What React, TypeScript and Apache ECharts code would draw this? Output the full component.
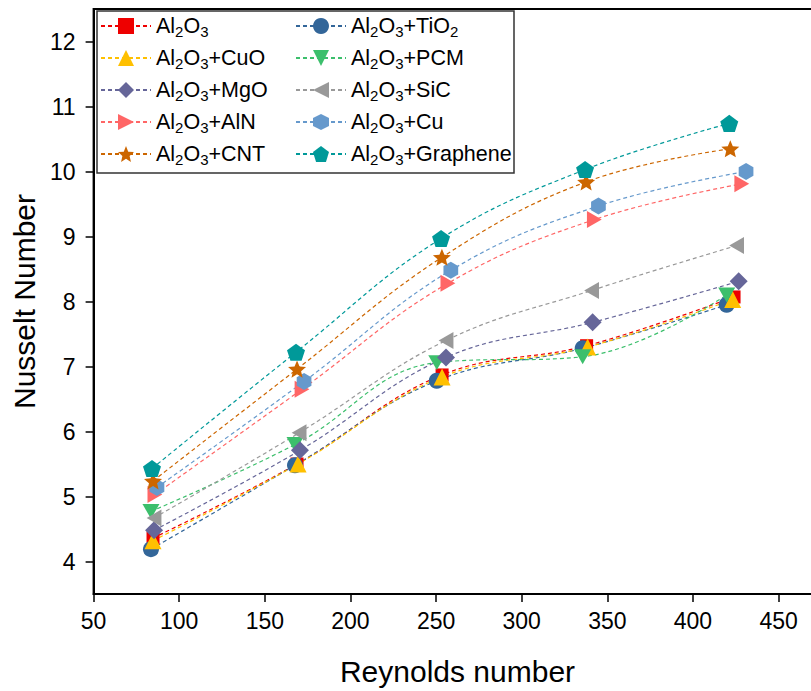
import { useEffect, useRef } from 'react';
import * as echarts from 'echarts';

const FONT = '"Liberation Sans", Arial, Helvetica, sans-serif';

// Reynolds number (x) and Nusselt number (y) per nanofluid
const reAl2O3 = [84.7, 168.8, 253.5, 337.9, 424.0];
const nuAl2O3 = [4.36, 5.5, 6.87, 7.32, 8.07];
const reTiO2 = [83.5, 167.6, 250.4, 335.6, 419.7];
const nuTiO2 = [4.19, 5.48, 6.78, 7.28, 7.95];
const reCuO = [84.7, 169.4, 253.5, 338.5, 423.2];
const nuCuO = [4.32, 5.5, 6.84, 7.3, 8.03];
const rePCM = [83.5, 167.6, 250.4, 335.6, 419.7];
const nuPCM = [4.77, 5.8, 7.06, 7.15, 8.1];
const reMgO = [85.3, 170.5, 255.8, 341.4, 426.7];
const nuMgO = [4.48, 5.71, 7.14, 7.68, 8.31];
const reSiC = [85.3, 170.0, 255.8, 340.8, 425.5];
const nuSiC = [4.67, 5.98, 7.4, 8.17, 8.86];
const reAlN = [85.8, 171.7, 256.9, 342.4, 428.5];
const nuAlN = [5.03, 6.65, 8.28, 9.26, 9.81];
const reCu = [87.0, 172.9, 258.6, 344.8, 431.0];
const nuCu = [5.14, 6.77, 8.48, 9.47, 10.0];
const reCNT = [84.7, 168.8, 253.4, 337.6, 421.8];
const nuCNT = [5.24, 6.96, 8.68, 9.84, 10.35];
const reGraphene = [84.1, 168.2, 252.9, 337.0, 421.2];
const nuGraphene = [5.43, 7.22, 8.97, 10.03, 10.74];

const xTicks = [50, 100, 150, 200, 250, 300, 350, 400, 450];
const yTicks = [4, 5, 6, 7, 8, 9, 10, 11, 12];

const legendLeft = ['Al2O3', 'Al2O3+CuO', 'Al2O3+MgO', 'Al2O3+AlN', 'Al2O3+CNT'];
const legendRight = ['Al2O3+TiO2', 'Al2O3+PCM', 'Al2O3+SiC', 'Al2O3+Cu', 'Al2O3+Graphene'];

// marker outlines
const STAR = 'path://M50,0 L63.2,31.8 L97.55,34.55 L71.4,57 L79.39,90.45 L50,72.5 L20.61,90.45 L28.6,57 L2.45,34.55 L36.8,31.8 Z';
const PENTAGON = 'path://M50,0 L97.55,34.55 L79.39,90.45 L20.61,90.45 L2.45,34.55 Z';
const HEXAGON = 'path://M50,0 L93.3,25 L93.3,75 L50,100 L6.7,75 L6.7,25 Z';
const TRI_DOWN = 'path://M0,0 L100,0 L50,87 Z';
const TRI_LEFT = 'path://M0,50 L87,0 L87,100 Z';
const TRI_RIGHT = 'path://M0,0 L87,50 L0,100 Z';

const seriesDefs = [
  { name: 'Al2O3', x: reAl2O3, y: nuAl2O3, color: '#ee0000', symbol: 'rect', size: 13 },
  { name: 'Al2O3+TiO2', x: reTiO2, y: nuTiO2, color: '#336699', symbol: 'circle', size: 16 },
  { name: 'Al2O3+CuO', x: reCuO, y: nuCuO, color: '#ffc000', symbol: 'triangle', size: 17 },
  { name: 'Al2O3+PCM', x: rePCM, y: nuPCM, color: '#3cbf6c', symbol: TRI_DOWN, size: 17 },
  { name: 'Al2O3+MgO', x: reMgO, y: nuMgO, color: '#666699', symbol: 'diamond', size: 18 },
  { name: 'Al2O3+SiC', x: reSiC, y: nuSiC, color: '#999999', symbol: TRI_LEFT, size: 17 },
  { name: 'Al2O3+AlN', x: reAlN, y: nuAlN, color: '#ff6666', symbol: TRI_RIGHT, size: 17 },
  { name: 'Al2O3+Cu', x: reCu, y: nuCu, color: '#6699cc', symbol: HEXAGON, size: 17 },
  { name: 'Al2O3+CNT', x: reCNT, y: nuCNT, color: '#cc6600', symbol: STAR, size: 18 },
  { name: 'Al2O3+Graphene', x: reGraphene, y: nuGraphene, color: '#009999', symbol: PENTAGON, size: 18 },
];

// chemical formulas: digits become subscripts
const formula = (name: string) =>
  name
    .split(/(\d)/)
    .filter(Boolean)
    .map((p) => (/^\d$/.test(p) ? `{s|${p}}` : `{m|${p}}`))
    .join('');

const legendBase = (left: number, data: string[]) => ({
  orient: 'vertical',
  left,
  top: 13,
  padding: 0,
  itemWidth: 50,
  itemHeight: 20,
  itemGap: 6,
  data,
  formatter: formula,
  textStyle: {
    color: '#000',
    fontFamily: FONT,
    fontSize: 21,
    rich: {
      m: { fontFamily: FONT, fontSize: 21.5, lineHeight: 24, color: '#000' },
      s: { fontFamily: FONT, fontSize: 15, lineHeight: 13, padding: [11, 0, 0, 0], color: '#000' },
    },
  },
});

// the plot frame runs past the right edge of the page, so the chart is
// drawn a little wider than the visible area
const VIEW_W = 811;
const VIEW_H = 691;
const CHART_W = 840;

export default function App() {
  const ref = useRef<HTMLDivElement>(null);

  useEffect(() => {
    if (!ref.current) return;
    const chart = echarts.init(ref.current, null, { renderer: 'svg' });
    chart.setOption({
      animation: false,
      backgroundColor: '#fff',
      grid: {
        left: 93.6,
        right: CHART_W - 821.4,
        top: 9,
        bottom: 93,
        show: true,
        borderColor: '#000',
        borderWidth: 2,
      },
      legend: [legendBase(100, legendLeft), legendBase(295, legendRight)],
      graphic: [
        {
          type: 'rect',
          x: 97,
          y: 11,
          shape: { x: 0, y: 0, width: 417, height: 162 },
          style: { fill: 'none', stroke: '#333', lineWidth: 1.5 },
          z: 10,
        },
      ],
      xAxis: {
        type: 'value',
        min: 50,
        max: 475,
        interval: 50,
        name: 'Reynolds number',
        nameLocation: 'middle',
        nameGap: 62,
        nameTextStyle: { fontFamily: FONT, fontSize: 30, color: '#000' },
        axisLine: { lineStyle: { color: '#000', width: 2 } },
        axisTick: {
          inside: false,
          length: 8,
          customValues: xTicks,
          lineStyle: { color: '#000', width: 1.5 },
        },
        axisLabel: {
          fontFamily: FONT,
          fontSize: 23,
          color: '#000',
          margin: 15,
          customValues: xTicks,
        },
        splitLine: { show: false },
      },
      yAxis: {
        type: 'value',
        min: 3.5,
        max: 12.5,
        name: 'Nusselt Number',
        nameLocation: 'middle',
        nameGap: 48,
        nameTextStyle: { fontFamily: FONT, fontSize: 30, color: '#000' },
        axisLine: { lineStyle: { color: '#000', width: 2 } },
        axisTick: {
          inside: false,
          length: 8,
          customValues: yTicks,
          lineStyle: { color: '#000', width: 1.5 },
        },
        axisLabel: {
          fontFamily: FONT,
          fontSize: 23,
          color: '#000',
          margin: 18,
          customValues: yTicks,
        },
        splitLine: { show: false },
      },
      series: seriesDefs.map((s) => ({
        name: s.name,
        type: 'line',
        smooth: 0.4,
        symbol: s.symbol,
        symbolSize: s.size,
        symbolKeepAspect: true,
        showAllSymbol: true,
        itemStyle: { color: s.color, borderWidth: 0 },
        lineStyle: { color: s.color, width: 1.2, type: [4, 3] },
        data: s.x.map((xv, i) => [xv, s.y[i]]),
      })),
    });
    return () => chart.dispose();
  }, []);

  return (
    <div
      style={{
        position: 'absolute',
        left: 0,
        top: 0,
        width: VIEW_W,
        height: VIEW_H,
        overflow: 'hidden',
        background: '#fff',
      }}
    >
      <div ref={ref} style={{ width: CHART_W, height: VIEW_H }} />
    </div>
  );
}
